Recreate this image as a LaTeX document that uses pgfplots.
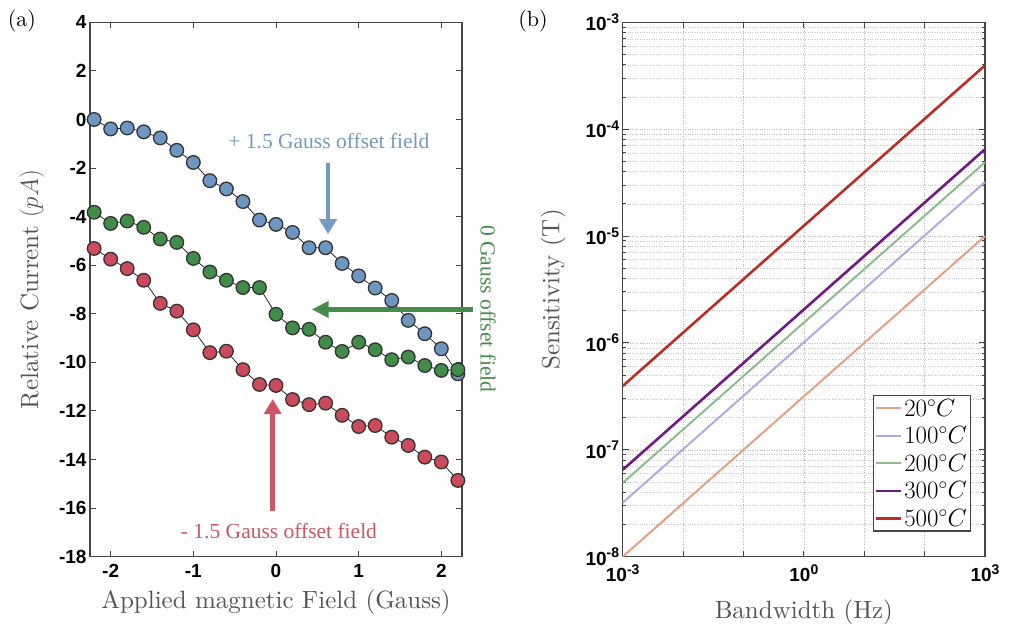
\documentclass[border=0pt]{standalone}
\usepackage{fontspec}
\setsansfont{Liberation Sans}
\newfontfamily\timesf{Liberation Serif}
\newfontfamily\cmten{lmroman10-regular.otf}[ItalicFont=lmroman10-italic.otf]
\usepackage{pgfplots}
\pgfplotsset{compat=1.18}
\usetikzlibrary{arrows.meta}
\definecolor{cblue}{RGB}{110,150,195}
\definecolor{cgreen}{RGB}{65,140,72}
\definecolor{cred}{RGB}{203,75,92}
\definecolor{ablue}{RGB}{115,155,192}
\definecolor{agreen}{RGB}{70,140,75}
\definecolor{ared}{RGB}{205,85,100}
\definecolor{l20}{RGB}{232,160,130}
\definecolor{l100}{RGB}{175,170,225}
\definecolor{l200}{RGB}{140,190,140}
\definecolor{l300}{RGB}{115,25,135}
\definecolor{l500}{RGB}{190,45,35}
\definecolor{axgray}{RGB}{70,70,70}
\newcommand{\tp}[1]{10\raisebox{7.5pt}{\fontsize{14}{14}\selectfont #1}}

\pgfplotstableread{
x blue green red
-2.2 0.00 -3.82 -5.31
-2.0 -0.39 -4.28 -5.75
-1.8 -0.35 -4.18 -6.14
-1.6 -0.51 -4.44 -6.62
-1.4 -0.76 -4.92 -7.57
-1.2 -1.27 -5.06 -7.89
-1.0 -1.77 -5.72 -8.66
-0.8 -2.52 -6.28 -9.60
-0.6 -2.86 -6.62 -9.54
-0.4 -3.38 -6.92 -10.30
-0.2 -4.14 -6.92 -10.91
0.0 -4.32 -8.02 -10.95
0.2 -4.65 -8.58 -11.53
0.4 -5.28 -8.64 -11.74
0.6 -5.28 -9.17 -11.68
0.8 -5.93 -9.55 -12.18
1.0 -6.44 -9.17 -12.64
1.2 -6.94 -9.48 -12.60
1.4 -7.45 -9.89 -13.08
1.6 -8.27 -9.78 -13.42
1.8 -8.82 -10.13 -13.90
2.0 -9.44 -10.33 -14.10
2.2 -10.47 -10.30 -14.86
}\dataA

\begin{document}
\begin{tikzpicture}
\useasboundingbox (0,0) rectangle (1010pt,625pt);
\node[font=\cmten\fontsize{22}{22}\selectfont] at (22pt,604pt) {(a)};
\node[font=\cmten\fontsize{22}{22}\selectfont] at (533pt,604pt) {(b)};
\begin{axis}[
  at={(90pt,68.3pt)}, anchor=south west,
  width=372pt, height=534.4pt, scale only axis,
  xmin=-2.25, xmax=2.25, ymin=-18, ymax=4,
  xtick={-2,-1,0,1,2}, xticklabels={-2,-1,0,1,2},
  ytick={-18,-16,...,4}, yticklabels={-18,-16,-14,-12,-10,-8,-6,-4,-2,0,2,4},
  tick align=inside, major tick length=6pt,
  tick style={axgray, line width=1pt},
  axis line style={axgray, line width=1.3pt},
  ticklabel style={font=\fontsize{19}{19}\sffamily\bfseries},
  xticklabel style={yshift=-4pt},
  xlabel={Applied magnetic Field (Gauss)},
  ylabel={Relative Current $(pA)$},
  label style={font=\cmten\fontsize{25}{25}\selectfont, text=black!67},
  xlabel style={at={(axis description cs:0.5,-0.086)}, anchor=center},
  ylabel style={at={(axis description cs:-0.156,0.5)}, anchor=center, rotate=0},
  clip=false,
]
\addplot[black!85, line width=0.8pt, mark=*, mark size=6.8pt,
  mark options={fill=cblue, draw=black!80, line width=1.3pt}] table[x=x,y=blue] {\dataA};
\addplot[black!85, line width=0.8pt, mark=*, mark size=6.8pt,
  mark options={fill=cgreen, draw=black!80, line width=1.3pt}] table[x=x,y=green] {\dataA};
\addplot[black!85, line width=0.8pt, mark=*, mark size=6.8pt,
  mark options={fill=cred, draw=black!80, line width=1.3pt}] table[x=x,y=red] {\dataA};
\node[font=\timesf\fontsize{21.5}{21.5}\selectfont, text=ablue] at (axis cs:0.64,-0.89) {+ 1.5 Gauss offset field};
\draw[ablue, line width=4.5pt, -{Triangle[width=17pt,length=15pt]}] (axis cs:0.63,-1.8) -- (axis cs:0.63,-4.72);
\draw[agreen, line width=4.5pt, -{Triangle[width=16pt,length=17pt]}] (axis cs:2.38,-7.82) -- (axis cs:0.432,-7.82);
\node[font=\timesf\fontsize{21.5}{21.5}\selectfont, text=agreen, rotate=-90] at (axis cs:2.567,-7.8) {0 Gauss offset field};
\draw[ared, line width=4.5pt, -{Triangle[width=17pt,length=15pt]}] (axis cs:-0.04,-16.12) -- (axis cs:-0.04,-11.51);
\node[font=\timesf\fontsize{21.5}{21.5}\selectfont, text=ared] at (axis cs:0.036,-16.94) {- 1.5 Gauss offset field};
\end{axis}

\begin{axis}[
  at={(622.7pt,68.3pt)}, anchor=south west,
  width=362.3pt, height=534.4pt, scale only axis,
  xmode=log, ymode=log,
  xmin=1e-3, xmax=1e3, ymin=1e-8, ymax=1e-3,
  xtick={1e-3,1e-2,1e-1,1e0,1e1,1e2,1e3},
  xticklabels={\tp{-3},,,\tp{0},,,\tp{3}},
  ytick={1e-8,1e-7,1e-6,1e-5,1e-4,1e-3},
  yticklabels={\tp{-8},\tp{-7},\tp{-6},\tp{-5},\tp{-4},\tp{-3}},
  xminorticks=false,
  tick align=inside, major tick length=6pt, minor tick length=3.5pt,
  tick style={axgray, line width=1pt},
  axis line style={axgray, line width=1.3pt},
  ticklabel style={font=\fontsize{19}{19}\sffamily\bfseries},
  xticklabel style={yshift=-4pt},
  xmajorgrids, ymajorgrids, yminorgrids,
  major grid style={dotted, gray!55, line width=0.6pt},
  minor grid style={dotted, gray!45, line width=0.6pt},
  xlabel={Bandwidth (Hz)},
  ylabel={Sensitivity (T)},
  label style={font=\cmten\fontsize{25}{25}\selectfont, text=black!67},
  xlabel style={at={(axis description cs:0.5,-0.1035)}, anchor=center},
  ylabel style={at={(axis description cs:-0.192,0.5)}, anchor=center, rotate=0},
  legend style={at={(axis description cs:0.9614,0.0468)}, anchor=south east,
    draw=axgray, line width=1.3pt, fill=white,
    font=\cmten\fontsize{23}{23}\selectfont, row sep=6pt, inner sep=2pt,
    nodes={inner sep=1.5pt}},
  legend cell align=left,
  legend image code/.code={\draw[#1] (0pt,0pt) -- (25pt,0pt);},
  clip=false,
]
\addplot[l20, line width=2pt] coordinates {(1e-3,1e-8) (1e3,1e-5)};
\addlegendentry{$20^\circ C$}
\addplot[l100, line width=2pt] coordinates {(1e-3,3.2e-8) (1e3,3.2e-5)};
\addlegendentry{$100^\circ C$}
\addplot[l200, line width=2pt] coordinates {(1e-3,4.9e-8) (1e3,4.9e-5)};
\addlegendentry{$200^\circ C$}
\addplot[l300, line width=2.6pt] coordinates {(1e-3,6.5e-8) (1e3,6.5e-5)};
\addlegendentry{$300^\circ C$}
\addplot[l500, line width=2.6pt] coordinates {(1e-3,3.95e-7) (1e3,3.95e-4)};
\addlegendentry{$500^\circ C$}
\end{axis}
\end{tikzpicture}
\end{document}
